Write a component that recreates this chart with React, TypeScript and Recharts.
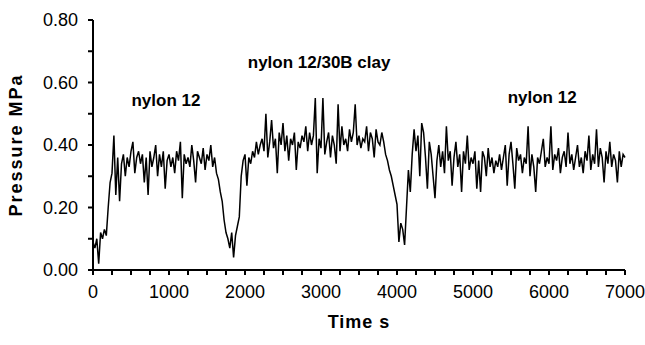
import React from "react";
import {
  LineChart,
  Line,
  XAxis,
  YAxis,
  ReferenceDot,
  Label,
} from "recharts";

// sampling interval of the pressure trace, seconds
const timeStep = 25;

// pressure readings (MPa), one every 25 s from 0 to 7000 s
const pressure0to1000 = [
  0.09, 0.07, 0.1, 0.02, 0.12, 0.1, 0.13, 0.11, 0.2, 0.28,
  0.31, 0.43, 0.24, 0.36, 0.22, 0.34, 0.37, 0.3, 0.36, 0.33,
  0.38, 0.41, 0.31, 0.36, 0.38, 0.34, 0.37, 0.28, 0.36, 0.24,
  0.38, 0.33, 0.36, 0.4, 0.3, 0.37, 0.33, 0.38, 0.26, 0.35,
];
const pressure1000to2000 = [
  0.37, 0.33, 0.36, 0.31, 0.38, 0.35, 0.41, 0.23, 0.37, 0.34,
  0.36, 0.33, 0.4, 0.35, 0.28, 0.38, 0.36, 0.34, 0.39, 0.32,
  0.37, 0.35, 0.4, 0.33, 0.36, 0.31, 0.29, 0.25, 0.22, 0.16,
  0.12, 0.1, 0.07, 0.12, 0.04, 0.11, 0.14, 0.17, 0.3, 0.35,
];
const pressure2000to3000 = [
  0.37, 0.27, 0.36, 0.34, 0.38, 0.36, 0.41, 0.37, 0.4, 0.42,
  0.38, 0.5, 0.36, 0.41, 0.48, 0.39, 0.42, 0.31, 0.44, 0.4,
  0.47, 0.38, 0.43, 0.35, 0.42, 0.4, 0.44, 0.32, 0.41, 0.39,
  0.43, 0.41, 0.46, 0.38, 0.44, 0.4, 0.43, 0.55, 0.31, 0.42,
];
const pressure3000to4000 = [
  0.39, 0.55, 0.37, 0.41, 0.44, 0.36, 0.43, 0.4, 0.34, 0.53,
  0.38, 0.46, 0.4, 0.42, 0.38, 0.45, 0.41, 0.44, 0.53, 0.4,
  0.43, 0.39, 0.42, 0.41, 0.46, 0.38, 0.44, 0.42, 0.36, 0.45,
  0.41, 0.4, 0.44, 0.41, 0.37, 0.35, 0.32, 0.3, 0.27, 0.24,
];
const pressure4000to5000 = [
  0.21, 0.09, 0.15, 0.13, 0.08, 0.2, 0.32, 0.25, 0.37, 0.45,
  0.38, 0.43, 0.3, 0.47, 0.44, 0.36, 0.26, 0.41, 0.37, 0.3,
  0.23, 0.35, 0.4, 0.33, 0.38, 0.31, 0.46, 0.35, 0.38, 0.27,
  0.36, 0.41, 0.33, 0.37, 0.25, 0.38, 0.34, 0.43, 0.32, 0.36,
];
const pressure5000to6000 = [
  0.34, 0.38, 0.26, 0.35, 0.25, 0.38, 0.36, 0.3, 0.39, 0.33,
  0.36, 0.31, 0.35, 0.33, 0.37, 0.32, 0.36, 0.4, 0.27, 0.37,
  0.41, 0.34, 0.26, 0.39, 0.35, 0.37, 0.31, 0.36, 0.34, 0.46,
  0.3, 0.37, 0.33, 0.25, 0.36, 0.34, 0.38, 0.42, 0.33, 0.36,
];
const pressure6000to7000 = [
  0.34, 0.46, 0.32, 0.37, 0.35, 0.39, 0.31, 0.36, 0.38, 0.33,
  0.44, 0.34, 0.37, 0.32, 0.36, 0.4, 0.33, 0.36, 0.31, 0.38,
  0.35, 0.43, 0.32, 0.37, 0.34, 0.45, 0.33, 0.39, 0.36, 0.28,
  0.38, 0.34, 0.41, 0.33, 0.37, 0.35, 0.28, 0.38, 0.33, 0.37,
  0.36,
];

const xTicks = [
  0, 250, 500, 750, 1000, 1250, 1500, 1750, 2000, 2250, 2500, 2750, 3000,
  3250, 3500, 3750, 4000, 4250, 4500, 4750, 5000, 5250, 5500, 5750, 6000,
  6250, 6500, 6750, 7000,
];
const yTicks = [0, 0.1, 0.2, 0.3, 0.4, 0.5, 0.6, 0.7, 0.8];

const annotations = [
  { text: "nylon 12", time: 960, value: 0.545 },
  { text: "nylon 12/30B clay", time: 2975, value: 0.665 },
  { text: "nylon 12", time: 5910, value: 0.555 },
];

const allPressure = [
  ...pressure0to1000,
  ...pressure1000to2000,
  ...pressure2000to3000,
  ...pressure3000to4000,
  ...pressure4000to5000,
  ...pressure5000to6000,
  ...pressure6000to7000,
];

const data = allPressure.map((p, i) => ({ time: i * timeStep, pressure: p }));

const FONT = "Arial, 'Liberation Sans', sans-serif";

function App() {
  return (
    <div style={{ position: "absolute", left: 0, top: 0, background: "#fff" }}>
      <LineChart
        width={645}
        height={345}
        data={data}
        margin={{ top: 20, right: 20, bottom: 45, left: 0 }}
      >
        <XAxis
          dataKey="time"
          type="number"
          domain={[0, 7000]}
          ticks={xTicks}
          interval={0}
          tickFormatter={(v: number) => (v % 1000 === 0 ? String(v) : "")}
          tickSize={5}
          tickMargin={10}
          stroke="#000"
          strokeWidth={2}
          tick={{ fill: "#000", fontSize: 18, fontFamily: FONT }}
        >
          <Label
            value="Time  s"
            position="insideBottom"
            offset={-28}
            style={{
              fill: "#000",
              fontSize: 18,
              fontWeight: "bold",
              fontFamily: FONT,
              letterSpacing: 1,
            }}
          />
        </XAxis>
        <YAxis
          type="number"
          domain={[0, 0.8]}
          ticks={yTicks}
          interval={0}
          width={93}
          tickFormatter={(v: number) =>
            Math.round(v * 10) % 2 === 0 ? v.toFixed(2) : ""
          }
          tickSize={5}
          tickMargin={10}
          stroke="#000"
          strokeWidth={2}
          tick={{ fill: "#000", fontSize: 18, fontFamily: FONT }}
        >
          <Label
            value="Pressure  MPa"
            angle={-90}
            position="insideLeft"
            offset={16}
            style={{
              textAnchor: "middle",
              fill: "#000",
              fontSize: 18,
              fontWeight: "bold",
              fontFamily: FONT,
              letterSpacing: 2,
            }}
          />
        </YAxis>
        <Line
          type="linear"
          dataKey="pressure"
          stroke="#000"
          strokeWidth={1.5}
          dot={false}
          isAnimationActive={false}
        />
        {annotations.map((a, i) => (
          <ReferenceDot
            key={i}
            x={a.time}
            y={a.value}
            r={0}
            fill="none"
            stroke="none"
            label={{
              value: a.text,
              position: "center",
              fill: "#000",
              fontSize: 17,
              fontWeight: "bold",
              fontFamily: FONT,
            }}
          />
        ))}
      </LineChart>
    </div>
  );
}

export default App;
